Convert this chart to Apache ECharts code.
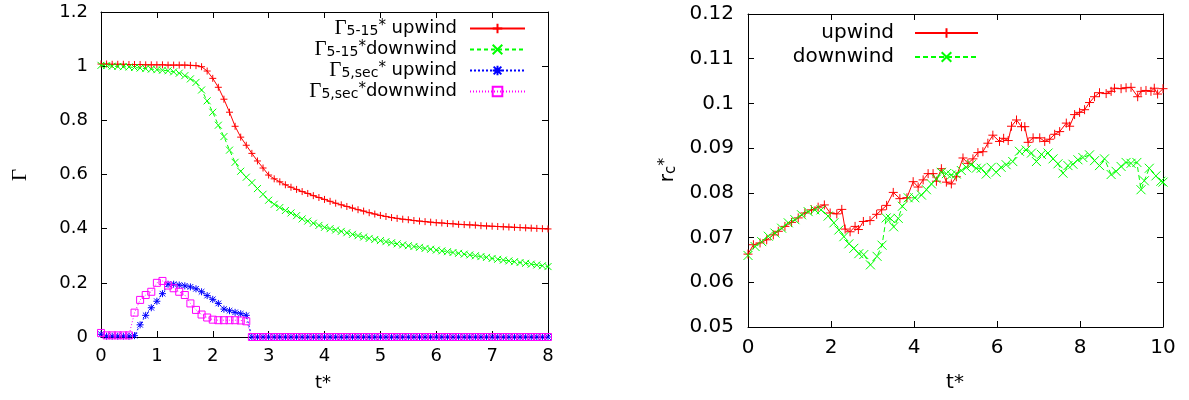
<!DOCTYPE html>
<html><head><meta charset="utf-8">
<script src="https://cdn.jsdelivr.net/npm/echarts@6/dist/echarts.min.js"></script>
<style>html,body{margin:0;padding:0;background:#fff}#c{width:1189px;height:400px}</style>
</head><body><div id="c"></div>
<script>
// ---------- Left panel: Gamma vs t* ----------
const tLeft = [0,0.1,0.2,0.3,0.4,0.5,0.6,0.7,0.8,0.9,1.0,1.1,1.2,1.3,1.4,1.5,1.6,1.7,1.8,1.9,
  2.0,2.1,2.2,2.3,2.4,2.5,2.6,2.7,2.8,2.9,3.0,3.1,3.2,3.3,3.4,3.5,3.6,3.7,3.8,3.9,
  4.0,4.1,4.2,4.3,4.4,4.5,4.6,4.7,4.8,4.9,5.0,5.1,5.2,5.3,5.4,5.5,5.6,5.7,5.8,5.9,
  6.0,6.1,6.2,6.3,6.4,6.5,6.6,6.7,6.8,6.9,7.0,7.1,7.2,7.3,7.4,7.5,7.6,7.7,7.8,7.9,8.0];
const gam515Up = [1.008,1.008,1.007,1.007,1.007,1.006,1.006,1.006,1.005,1.005,1.005,1.005,1.004,1.004,1.004,1.004,1.003,1.002,0.998,0.982,
  0.955,0.922,0.878,0.830,0.778,0.738,0.708,0.678,0.650,0.624,0.598,0.584,0.573,0.562,0.553,0.545,0.537,0.530,0.522,0.515,
  0.508,0.501,0.494,0.488,0.482,0.476,0.470,0.465,0.459,0.454,0.449,0.445,0.441,0.438,0.435,0.433,0.430,0.428,0.426,0.424,
  0.422,0.421,0.419,0.418,0.416,0.415,0.414,0.413,0.411,0.410,0.409,0.408,0.407,0.406,0.405,0.404,0.403,0.402,0.401,0.400,0.399];
const gam515Down = [1.003,1.002,1.000,0.999,0.998,0.997,0.995,0.993,0.991,0.989,0.987,0.985,0.983,0.979,0.974,0.965,0.953,0.940,0.912,0.872,
  0.830,0.782,0.740,0.690,0.645,0.612,0.590,0.570,0.548,0.527,0.505,0.490,0.478,0.467,0.458,0.448,0.436,0.428,0.420,0.412,
  0.405,0.400,0.395,0.390,0.385,0.379,0.374,0.369,0.364,0.360,0.356,0.352,0.348,0.344,0.340,0.337,0.334,0.331,0.327,0.324,
  0.321,0.318,0.315,0.312,0.309,0.306,0.303,0.300,0.297,0.294,0.290,0.287,0.284,0.281,0.278,0.275,0.272,0.269,0.266,0.263,0.260];
const gamSecUp = [0.010,0.003,0.003,0.003,0.003,0.003,0.005,0.045,0.080,0.108,0.132,0.160,0.195,0.195,0.192,0.189,0.185,0.178,0.167,0.153,
  0.139,0.124,0.103,0.097,0.091,0.086,0.080,0,0,0,0,0,0,0,0,0,0,0,0,0,
  0,0,0,0,0,0,0,0,0,0,0,0,0,0,0,0,0,0,0,0,
  0,0,0,0,0,0,0,0,0,0,0,0,0,0,0,0,0,0,0,0,0];
const gamSecDown = [0.015,0.006,0.006,0.006,0.006,0.006,0.090,0.137,0.155,0.167,0.200,0.207,0.190,0.180,0.167,0.155,0.124,0.100,0.083,0.072,
  0.064,0.062,0.062,0.062,0.062,0.061,0.058,0,0,0,0,0,0,0,0,0,0,0,0,0,
  0,0,0,0,0,0,0,0,0,0,0,0,0,0,0,0,0,0,0,0,
  0,0,0,0,0,0,0,0,0,0,0,0,0,0,0,0,0,0,0,0,0];
const leftXTicks = [0,1,2,3,4,5,6,7,8];
const leftYTicks = [0,0.2,0.4,0.6,0.8,1.0,1.2];

// ---------- Right panel: r_c* vs t* ----------
const rcUpT = [0,0.13,0.29,0.45,0.61,0.73,0.89,1.05,1.21,1.37,1.53,1.69,1.84,1.98,2.14,2.26,2.34,2.46,2.58,2.66,
  2.78,2.94,3.1,3.22,3.34,3.5,3.66,3.83,3.98,4.1,4.22,4.34,4.46,4.54,4.66,4.78,4.9,5.02,5.18,5.3,
  5.42,5.54,5.66,5.78,5.9,6.06,6.16,6.27,6.35,6.47,6.59,6.67,6.75,6.87,7.03,7.15,7.27,7.39,7.51,7.67,
  7.75,7.87,7.99,8.11,8.23,8.35,8.47,8.63,8.75,8.83,8.99,9.11,9.23,9.39,9.47,9.59,9.71,9.79,9.87,10.0];
const rcUp = [0.0663,0.0684,0.0688,0.0695,0.0706,0.0714,0.0725,0.0734,0.0744,0.0755,0.0762,0.0768,0.0773,0.0755,0.0753,0.0763,0.0719,0.0713,0.0725,0.0718,
  0.0736,0.0738,0.0752,0.0762,0.0772,0.0801,0.0787,0.0789,0.0825,0.0813,0.0829,0.0843,0.0843,0.0826,0.0854,0.0824,0.0820,0.0836,0.0878,0.0866,
  0.0876,0.0890,0.0892,0.0911,0.0929,0.0915,0.0922,0.0917,0.0949,0.0963,0.0948,0.0948,0.0913,0.0923,0.0923,0.0915,0.0920,0.0931,0.0937,0.0956,
  0.0949,0.0975,0.0980,0.0986,0.1002,0.1015,0.1024,0.1022,0.1027,0.1034,0.1033,0.1035,0.1036,0.1015,0.1027,0.1029,0.1027,0.1034,0.1021,0.1033];
const rcDownT = [0,0.17,0.33,0.49,0.65,0.81,0.97,1.13,1.29,1.45,1.61,1.76,1.93,2.07,2.19,2.31,2.43,2.55,2.67,2.79,
  2.95,3.11,3.23,3.33,3.43,3.51,3.62,3.72,3.86,4.02,4.18,4.3,4.42,4.54,4.66,4.78,4.9,5.02,5.14,5.26,
  5.38,5.5,5.62,5.74,5.86,5.98,6.1,6.22,6.38,6.54,6.7,6.83,6.95,7.07,7.23,7.35,7.47,7.59,7.71,7.83,
  7.95,8.07,8.23,8.35,8.47,8.59,8.75,8.87,8.99,9.11,9.23,9.37,9.47,9.55,9.67,9.83,9.95,10.0];
const rcDown = [0.0660,0.0680,0.0691,0.0703,0.0710,0.0721,0.0733,0.0740,0.0751,0.0758,0.0762,0.0762,0.0748,0.0733,0.0717,0.0702,0.0686,0.0676,0.0664,0.0662,
  0.0639,0.0658,0.0683,0.0744,0.0743,0.0724,0.0743,0.0770,0.0789,0.0789,0.0795,0.0807,0.0820,0.0831,0.0846,0.0843,0.0840,0.0842,0.0850,0.0857,
  0.0863,0.0855,0.0855,0.0842,0.0857,0.0846,0.0857,0.0863,0.0870,0.0893,0.0896,0.0889,0.0870,0.0886,0.0889,0.0876,0.0865,0.0844,0.0861,0.0864,
  0.0874,0.0879,0.0885,0.0872,0.0861,0.0876,0.0841,0.0848,0.0859,0.0868,0.0866,0.0868,0.0807,0.0827,0.0855,0.0838,0.0826,0.0824];
const rightXTicks = [0,2,4,6,8,10];
const rightYTicks = [0.05,0.06,0.07,0.08,0.09,0.10,0.11,0.12];

// ---------- legend labels ----------
const leftNames = ['Γ5-15* upwind','Γ5-15* downwind','Γ5,sec* upwind','Γ5,sec* downwind'];
const leftLegendRich = {
  'Γ5-15* upwind': '{g|Γ}{s|5-15}{p|*}{t| upwind}{e| }',
  'Γ5-15* downwind': '{g|Γ}{s|5-15}{p|*}{t|downwind}{e| }',
  'Γ5,sec* upwind': '{g|Γ}{s|5,sec}{p|*}{t| upwind}{e| }',
  'Γ5,sec* downwind': '{g|Γ}{s|5,sec}{p|*}{t|downwind}{e| }'
};
const rightNames = ['upwind','downwind'];

const SYM_PLUS = 'path://M0,5L10,5M5,0L5,10';
const SYM_X = 'path://M0,0L10,10M10,0L0,10';
const SYM_STAR = 'path://M0,5L10,5M5,0L5,10M1,1L9,9M9,1L1,9';
const SYM_SQ = 'path://M0,0L10,0L10,10L0,10Z';

const FONT = 'DejaVu Sans';
function axisCommon(min, max, interval, fs, showLabel, fmt, position, gridIndex, margin) {
  return {
    type: 'value', gridIndex, min, max, interval, position,
    axisLine: { show: true, onZero: false, lineStyle: { color: '#000', width: 1 } },
    axisTick: { show: true, inside: true, length: 6, lineStyle: { color: '#000', width: 1 } },
    axisLabel: { show: showLabel, fontFamily: FONT, fontSize: fs, color: '#000', margin, formatter: fmt },
    splitLine: { show: false }
  };
}
const fmtInt = v => String(Math.round(v));
const fmtL = v => String(+v.toFixed(1));
const fmtR = v => String(+v.toFixed(2));

const leftData = (arr) => tLeft.map((t, i) => [t, arr[i]]);
const pair = (ts, vs) => ts.map((t, i) => [t, vs[i]]);

function lineSeries(name, data, color, lineType, symbol, size, xi, yi, fillNone) {
  return {
    type: 'line', name, data, xAxisIndex: xi, yAxisIndex: yi,
    symbol, symbolSize: size, showSymbol: true, showAllSymbol: true,
    color,
    lineStyle: { color, width: 1, type: lineType },
    itemStyle: { color: fillNone ? 'rgba(0,0,0,0)' : color, borderColor: color, borderWidth: 1 },
    emphasis: { disabled: true }, silent: true, animation: false
  };
}

const chart = echarts.init(document.getElementById('c'), null, { renderer: 'canvas' });
chart.setOption({
  backgroundColor: '#fff',
  animation: false,
  grid: [
    { left: 101, top: 12, width: 447, height: 325 },
    { left: 748, top: 14, width: 415, height: 313 }
  ],
  xAxis: [
    axisCommon(0, 8, 1, 18, true, fmtInt, 'bottom', 0, 10),
    axisCommon(0, 8, 1, 18, false, fmtInt, 'top', 0, 10),
    axisCommon(0, 10, 2, 20, true, fmtInt, 'bottom', 1, 11),
    axisCommon(0, 10, 2, 20, false, fmtInt, 'top', 1, 11)
  ],
  yAxis: [
    axisCommon(0, 1.2, 0.2, 18, true, fmtL, 'left', 0, 13),
    axisCommon(0, 1.2, 0.2, 18, false, fmtL, 'right', 0, 13),
    axisCommon(0.05, 0.12, 0.01, 20, true, fmtR, 'left', 1, 14),
    axisCommon(0.05, 0.12, 0.01, 20, false, fmtR, 'right', 1, 14)
  ],
  legend: [
    {
      data: leftNames, orient: 'vertical', align: 'right', right: 663, top: 18, padding: 0,
      itemWidth: 55, itemHeight: 12, itemGap: 0, selectedMode: false,
      formatter: n => leftLegendRich[n],
      textStyle: {
        fontFamily: FONT, fontSize: 18, color: '#000', lineHeight: 20,
        rich: {
          g: { fontFamily: 'Liberation Serif', fontSize: 21, lineHeight: 20, color: '#000', align: 'right' },
          s: { fontFamily: FONT, fontSize: 14, lineHeight: 8, verticalAlign: 'bottom', color: '#000', align: 'right' },
          p: { fontFamily: FONT, fontSize: 15, lineHeight: 8, verticalAlign: 'top', color: '#000', align: 'right' },
          t: { fontFamily: FONT, fontSize: 18, lineHeight: 20, color: '#000', align: 'right' },
          e: { fontFamily: FONT, fontSize: 18, lineHeight: 20, width: 8, color: '#000', align: 'right' }
        }
      }
    },
    {
      data: rightNames, orient: 'vertical', align: 'right', right: 210, top: 21, padding: 0,
      itemWidth: 63, itemHeight: 12, itemGap: 0, selectedMode: false,
      textStyle: { fontFamily: FONT, fontSize: 20, color: '#000', lineHeight: 24, padding: [0, 16, 0, 0] }
    }
  ],
  graphic: [
    { type: 'text', x: 20, y: 175, rotation: Math.PI / 2,
      style: { text: 'Γ', fontFamily: 'Liberation Serif', fontSize: 21, fill: '#000', align: 'center', verticalAlign: 'middle' } },
    { type: 'text', x: 323, y: 383,
      style: { text: 't*', fontFamily: FONT, fontSize: 18, fill: '#000', align: 'center', verticalAlign: 'middle' } },
    { type: 'text', x: 955, y: 383,
      style: { text: 't*', fontFamily: FONT, fontSize: 20, fill: '#000', align: 'center', verticalAlign: 'middle' } },
    { type: 'text', x: 668, y: 170, rotation: Math.PI / 2,
      style: { text: '{r|r}{s|c}{p|*}', align: 'center', verticalAlign: 'middle', fill: '#000',
        rich: {
          r: { fontFamily: FONT, fontSize: 20, lineHeight: 22, fill: '#000' },
          s: { fontFamily: FONT, fontSize: 15, lineHeight: 8, verticalAlign: 'bottom', fill: '#000' },
          p: { fontFamily: FONT, fontSize: 16, lineHeight: 8, verticalAlign: 'top', fill: '#000' }
        } } }
  ],
  series: [
    lineSeries('Γ5-15* upwind', leftData(gam515Up), '#ff0000', 'solid', SYM_PLUS, 7, 0, 0, false),
    lineSeries('Γ5-15* downwind', leftData(gam515Down), '#00ff00', [4, 3], SYM_X, 7, 0, 0, false),
    lineSeries('Γ5,sec* upwind', leftData(gamSecUp), '#0000ff', [2, 2], SYM_STAR, 7, 0, 0, false),
    lineSeries('Γ5,sec* downwind', leftData(gamSecDown), '#ff00ff', [1, 2], SYM_SQ, 7, 0, 0, true),
    lineSeries('upwind', pair(rcUpT, rcUp), '#ff0000', 'solid', SYM_PLUS, 9, 2, 2, false),
    lineSeries('downwind', pair(rcDownT, rcDown), '#00ff00', [5, 3], SYM_X, 9, 2, 2, false)
  ]
});
</script>
</body></html>
